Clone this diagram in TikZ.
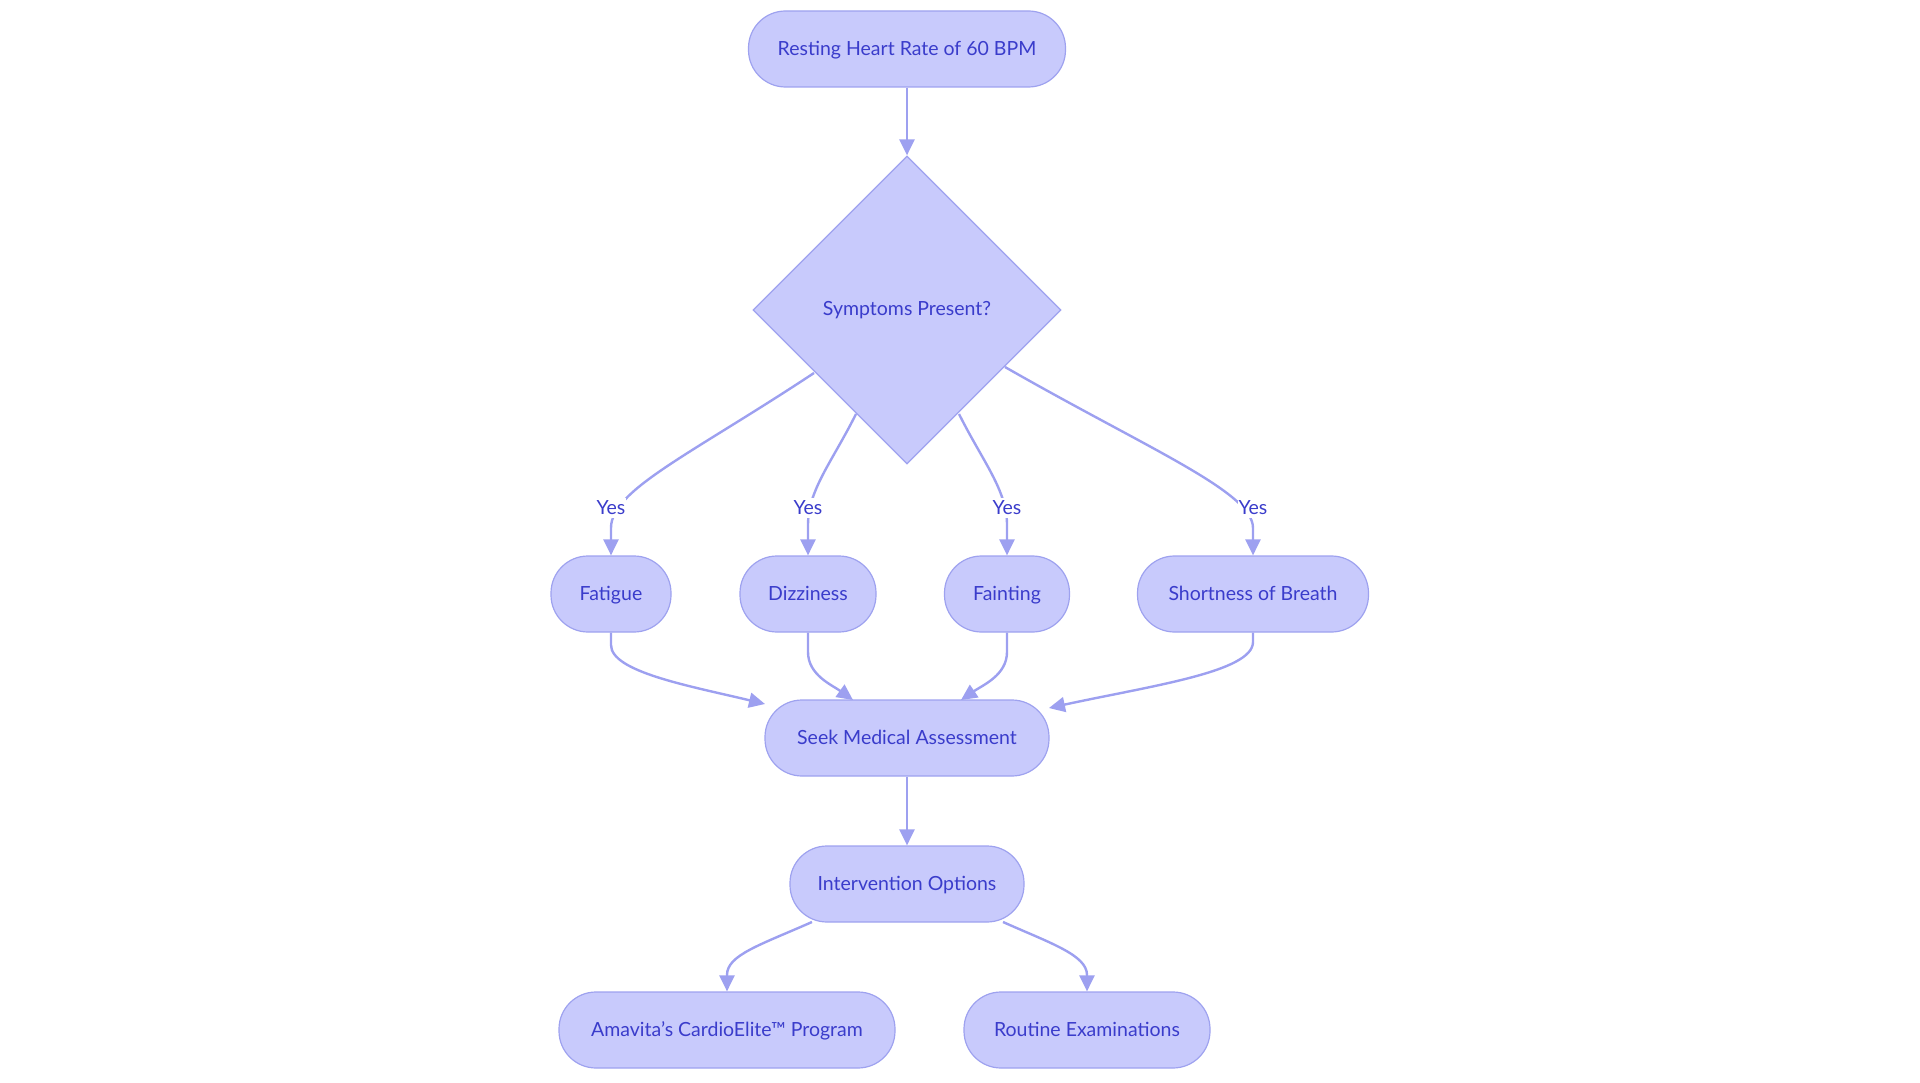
\documentclass[tikz,border=0pt]{standalone}
\usepackage{fontspec}
\setmainfont{Lato}
\usetikzlibrary{shapes.geometric,arrows.meta}
\definecolor{nodefill}{HTML}{C8CAFC}
\definecolor{nodeline}{HTML}{9EA2EF}
\definecolor{edgecol}{HTML}{9DA0F0}
\definecolor{txtcol}{HTML}{3A3CCB}
\tikzset{
  x=1pt,y=-1pt,
  every node/.style={font=\fontsize{19.5}{23}\selectfont, text=txtcol},
  pill/.style={draw=nodeline, fill=nodefill, line width=1.2pt, rounded corners=37pt, minimum height=76pt, inner sep=0pt, text height=15.5pt, text depth=2.5pt},
  decision/.style={draw=nodeline, fill=nodefill, line width=1.2pt, diamond, minimum width=308pt, minimum height=308pt, inner sep=0pt},
  edge/.style={draw=edgecol, line width=2.4pt, -{Triangle[length=16pt,width=15pt]}},
  yeslbl/.style={fill=white, inner sep=1pt, text height=15.5pt, text depth=2.5pt}
}
\begin{document}
\begin{tikzpicture}
\useasboundingbox (0,0) rectangle (1920,1083);
\node[pill, minimum width=317pt] (top) at (907,49) {Resting Heart Rate of 60 BPM};
\node[decision] (dec) at (907,310) {Symptoms Present?};
\node[pill, minimum width=120pt] (fat) at (611,594) {Fatigue};
\node[pill, minimum width=136pt] (diz) at (808,594) {Dizziness};
\node[pill, minimum width=125pt] (fai) at (1007,594) {Fainting};
\node[pill, minimum width=231pt] (sob) at (1253,594) {Shortness of Breath};
\node[pill, minimum width=284pt] (seek) at (907,738) {Seek Medical Assessment};
\node[pill, minimum width=234pt] (int) at (907,884) {Intervention Options};
\node[pill, minimum width=336pt] (ama) at (727,1030) {Amavita’s CardioElite™ Program};
\node[pill, minimum width=246pt] (rou) at (1087,1030) {Routine Examinations};

\coordinate (d1) at (814,373);
\coordinate (d2) at (856,414);
\coordinate (d3) at (959,414);
\coordinate (d4) at (1005,367);

\draw[edge] (top) -- (dec);

\draw[edge] (d1) .. controls (690,455) and (611,490) .. (611,528) -- (fat.north);
\draw[edge] (d2) .. controls (832,462) and (808,490) .. (808,525) -- (diz.north);
\draw[edge] (d3) .. controls (983,462) and (1007,490) .. (1007,525) -- (fai.north);
\draw[edge] (d4) .. controls (1150,450) and (1253,492) .. (1253,528) -- (sob.north);

\node[yeslbl] (y1) at (611,508) {Yes};
\node[yeslbl] (y2) at (808,508) {Yes};
\node[yeslbl] (y3) at (1007,508) {Yes};
\node[yeslbl] (y4) at (1253,508) {Yes};

\coordinate (s1) at (765,704);
\coordinate (s2) at (853,700);
\coordinate (s3) at (961,700);
\coordinate (s4) at (1049,708);
\draw[edge] (fat.south) -- (611,645) .. controls (611,672) and (690,686) .. (s1);
\draw[edge] (diz.south) -- (808,652) .. controls (808,675) and (832,685) .. (s2);
\draw[edge] (fai.south) -- (1007,652) .. controls (1007,675) and (983,685) .. (s3);
\draw[edge] (sob.south) -- (1253,642) .. controls (1253,672) and (1150,686) .. (s4);

\draw[edge] (seek) -- (int);

\coordinate (i1) at (812,922);
\coordinate (i2) at (1003,922);
\draw[edge] (i1) .. controls (760,945) and (727,955) .. (727,975) -- (ama.north);
\draw[edge] (i2) .. controls (1050,943) and (1087,955) .. (1087,975) -- (rou.north);
\end{tikzpicture}
\end{document}
